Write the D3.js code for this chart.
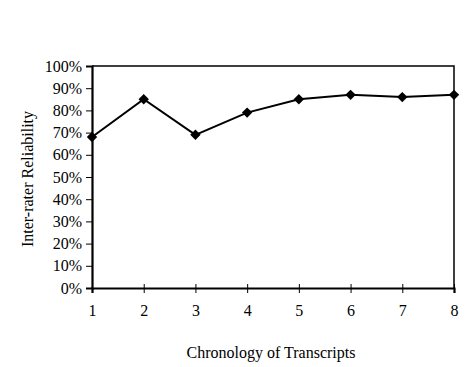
<!DOCTYPE html>
<html><head><meta charset="utf-8">
<script src="https://cdn.jsdelivr.net/npm/d3@7"></script>
<style>body{margin:0;background:#fff}svg{display:block}text{font-family:"Liberation Serif","Times New Roman",serif;fill:#000}</style>
</head><body><svg id="c" width="474" height="367"></svg>
<script>
const categories = [1,2,3,4,5,6,7,8];
const reliability = [0.68,0.85,0.69,0.79,0.85,0.87,0.86,0.87];
const yTicks = [0,0.1,0.2,0.3,0.4,0.5,0.6,0.7,0.8,0.9,1.0];
const xTitle = "Chronology of Transcripts";
const yTitle = "Inter-rater Reliability";

const svg = d3.select("#c");
const L=92,R=454,T=66,B=288;
const x = d3.scaleLinear().domain([1,8]).range([L,R]);
const y = d3.scaleLinear().domain([0,1]).range([B,T]);

svg.append("path").attr("d",`M${L},${T}H${R}V${B}`).attr("fill","none").attr("stroke","#000").attr("stroke-width",1.5);

const ya = svg.append("g").attr("transform",`translate(${L},0)`)
  .call(d3.axisLeft(y).tickValues(yTicks).tickFormat(d3.format(".0%")).tickSize(6).tickPadding(4));
ya.select(".domain").attr("stroke-width",2.2);
ya.selectAll("text").style("font-size","16px").style("font-family","Liberation Serif");

const xa = svg.append("g").attr("transform",`translate(0,${B})`)
  .call(d3.axisBottom(x).tickValues(categories).tickFormat(d3.format("d")).tickSize(5).tickPadding(12));
xa.select(".domain").attr("stroke-width",2.2);
xa.selectAll(".tick line").attr("y1",-4);
xa.selectAll("text").style("font-size","16px").style("font-family","Liberation Serif");

const line = d3.line().x((d,i)=>x(categories[i])).y(d=>y(d));
svg.append("path").datum(reliability).attr("d",line).attr("fill","none").attr("stroke","#000").attr("stroke-width",2);

svg.selectAll(".pt").data(reliability).enter().append("path")
  .attr("transform",(d,i)=>`translate(${x(categories[i])},${y(d)}) rotate(45)`)
  .attr("d",d3.symbol(d3.symbolSquare,54)).attr("fill","#000");

svg.append("text").attr("x",271).attr("y",358).attr("text-anchor","middle").style("font-size","16px").text(xTitle);
svg.append("text").attr("transform",`translate(33,179) rotate(-90)`).attr("text-anchor","middle").style("font-size","16px").text(yTitle);
</script></body></html>
